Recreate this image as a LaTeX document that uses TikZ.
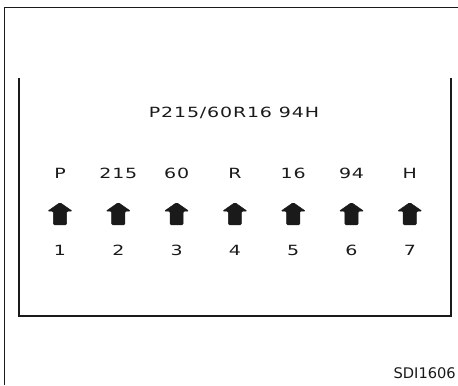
\documentclass[tikz,border=0pt]{standalone}
\usepackage{fontspec}
\setmainfont{DejaVu Sans}
\newfontfamily\widefont[FakeStretch=1.35,LetterSpace=6]{DejaVu Sans}
\usetikzlibrary{shapes.arrows}
\definecolor{ink}{HTML}{1A1A1A}

\tikzset{
  tag/.style={font=\widefont\fontsize{12}{14}\selectfont, text=ink, inner sep=0pt},
  uparrow/.style={single arrow, draw=ink, fill=ink, shape border rotate=90,
    minimum height=19pt, minimum width=21pt, single arrow head extend=4.5pt,
    single arrow tip angle=110, inner sep=5pt, rounded corners=1pt}
}

\begin{document}
\begin{tikzpicture}[x=0.03cm,y=-0.03cm]
  \useasboundingbox (0,0) rectangle (458,385);

  % page frame
  \draw[ink,line width=0.6pt] (458,7) -- (4,7) -- (4,385);

  % open box round the tyre code
  \draw[ink,line width=1.3pt] (19,78) -- (19,316) -- (451,316) -- (451,78);

  % tyre code
  \node[tag] (code) at (234,113) {P215/60R16 94H};

  % parts, arrows and numbers
  \foreach \lbl [count=\i] in {P,215,60,R,16,94,H} {
    \node[tag] (part\i) at ({60+58.3*(\i-1)},173) {\lbl};
    \node[uparrow] (arrow\i) at ({60+58.3*(\i-1)},216) {};
    \node[tag] (num\i) at ({60+58.3*(\i-1)},250) {\i};
  }

  % figure id
  \node[font=\fontsize{12.5}{14}\selectfont, text=ink, anchor=east, inner sep=0pt] (figid) at (456,373) {SDI1606};
\end{tikzpicture}
\end{document}
